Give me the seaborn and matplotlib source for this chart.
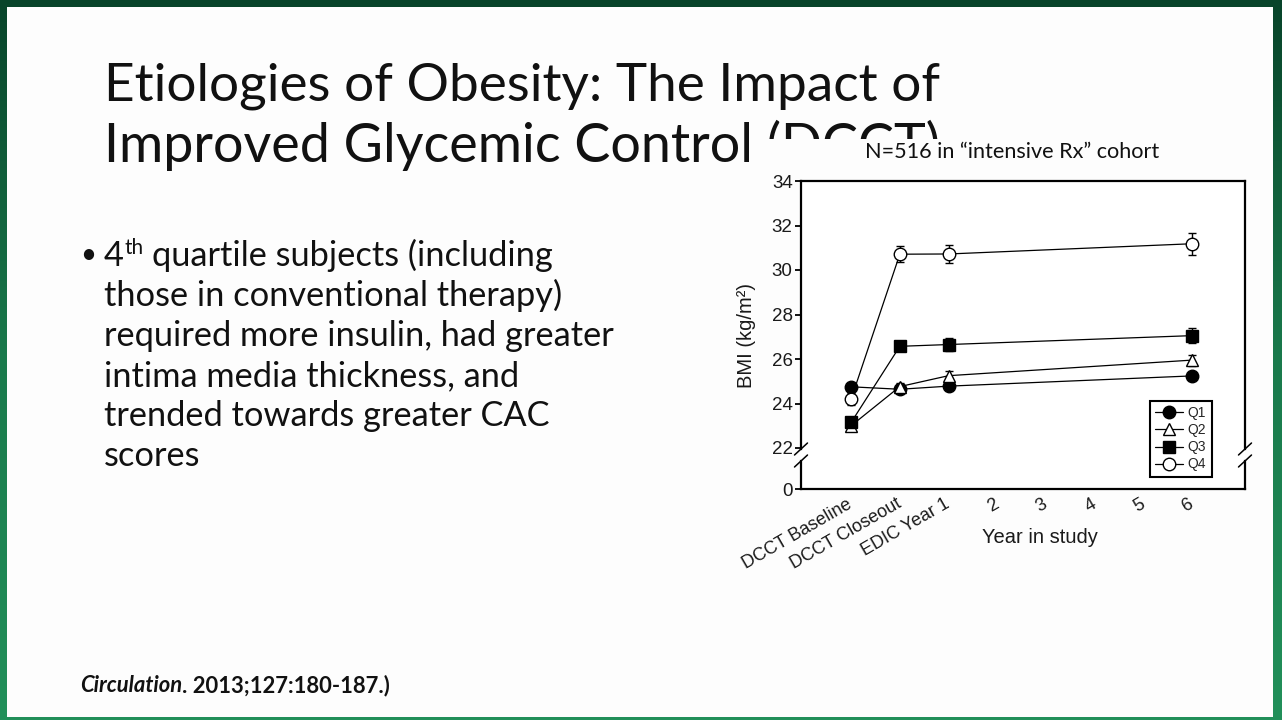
import matplotlib
matplotlib.use("Agg")
import matplotlib.pyplot as plt
import seaborn as sns
import numpy as np
import pandas as pd
from matplotlib.patches import Rectangle
from matplotlib.colors import LinearSegmentedColormap

# ---------------- data ----------------
tick_labels = ["DCCT Baseline", "DCCT Closeout", "EDIC Year 1", "2", "3", "4", "5", "6"]
visit_pos = [0, 1, 2, 7]          # index into tick_labels for measured visits
quartiles = ["Q1", "Q2", "Q3", "Q4"]
q1_bmi = [24.75, 24.64, 24.78, 25.24]
q1_err = [0.15, 0.12, 0.15, 0.18]
q2_bmi = [23.00, 24.76, 25.25, 25.95]
q2_err = [0.15, 0.15, 0.22, 0.25]
q3_bmi = [23.15, 26.57, 26.65, 27.05]
q3_err = [0.15, 0.20, 0.30, 0.35]
q4_bmi = [24.20, 30.71, 30.72, 31.18]
q4_err = [0.25, 0.35, 0.40, 0.50]
y_tick_values = [22, 24, 26, 28, 30, 32, 34]
y_zero_label = "0"

title_line1 = "Etiologies of Obesity: The Impact of"
title_line2 = "Improved Glycemic Control (DCCT)"
chart_title = "N=516 in \u201cintensive Rx\u201d cohort"
bullet_lines = ["those in conventional therapy)",
                "required more insulin, had greater",
                "intima media thickness, and",
                "trended towards greater CAC",
                "scores"]
citation_italic = "Circulation"
citation_rest = ". 2013;127:180-187.)"

# ---------------- figure ----------------
sns.set_style("ticks")
plt.rcParams["font.family"] = ["Liberation Sans", "DejaVu Sans"]
W, H = 1282, 720
fig = plt.figure(figsize=(W / 100, H / 100), dpi=100)

bg = fig.add_axes([0, 0, 1, 1])
bg.set_xlim(0, W)
bg.set_ylim(H, 0)
bg.axis("off")
grad = np.linspace(0, 1, 256).reshape(-1, 1)
cmap = LinearSegmentedColormap.from_list("g", ["#08442a", "#1a7a4c", "#22905a"])
bg.imshow(grad, extent=[0, W, H, 0], aspect="auto", cmap=cmap, zorder=0)
bg.add_patch(Rectangle((7, 7), 1266, 710, facecolor="#fdfdfd", edgecolor="none", zorder=1))

r = fig.canvas.get_renderer()
slide_font = ["Lato", "DejaVu Sans"]
ink = "#111111"


def fit_size(s, target, **kw):
    t = bg.text(0, 0, s, fontsize=20, family=slide_font, **kw)
    w = t.get_window_extent(renderer=r).width
    t.remove()
    return 20 * target / w


# title (second line partly hidden behind the chart picture)
ts = fit_size(title_line1, 836)
bg.text(104, 101, title_line1, fontsize=ts, family=slide_font, va="baseline", color=ink, zorder=2)
bg.text(104, 162, title_line2, fontsize=ts * 1.015, family=slide_font, va="baseline", color=ink, zorder=2)
bg.add_patch(Rectangle((759, 139), 503, 460, facecolor="#fdfdfd", edgecolor="none", zorder=3))

# chart caption
cs = fit_size(chart_title, 295)
bg.text(1012, 152, chart_title, fontsize=cs, family=slide_font, ha="center", va="center", color=ink, zorder=4)

# bullet text
bs = fit_size(bullet_lines[1], 513)
bg.text(80, 263, "\u2022", fontsize=bs * 0.8, family=slide_font, va="baseline", color=ink, zorder=4)
t4 = bg.text(104, 266, "4", fontsize=bs, family=slide_font, va="baseline", color=ink, zorder=4)
x_after = t4.get_window_extent(renderer=r).x1
tth = bg.text(x_after + 0.5, 254, "th", fontsize=bs * 0.6, family=slide_font, va="baseline", color=ink, zorder=4)
x_after = tth.get_window_extent(renderer=r).x1
bg.text(x_after + bs * 100 / 72 * 0.25, 266, "quartile subjects (including", fontsize=bs, family=slide_font,
        va="baseline", color=ink, zorder=4)
for i, line in enumerate(bullet_lines):
    bg.text(104, 306 + 40 * i, line, fontsize=bs, family=slide_font, va="baseline", color=ink, zorder=4)

# citation
ci = bg.text(80, 692, citation_italic, fontsize=15.8, family=slide_font, fontweight="bold", fontstyle="italic",
             va="baseline", color=ink, zorder=4)
x_after = ci.get_window_extent(renderer=r).x1
bg.text(x_after, 692, citation_rest, fontsize=15.8, family=slide_font, fontweight="bold",
        va="baseline", color=ink, zorder=4)

# ---------------- chart ----------------
ax = fig.add_axes([801 / W, 1 - 489 / H, 444 / W, 308 / H])
ax.set_zorder(5)
ax.set_facecolor("white")

y_floor = 22 - 41 / 22.25   # position where the broken axis shows "0"

series = [
    ("Q1", q1_bmi, q1_err, "o", "black", 9.0),
    ("Q2", q2_bmi, q2_err, "^", "white", 8.5),
    ("Q3", q3_bmi, q3_err, "s", "black", 8.5),
    ("Q4", q4_bmi, q4_err, "o", "white", 9.0),
]
for name, vals, errs, mk, fc, ms in series:
    df = pd.DataFrame({"visit": visit_pos, "bmi": vals})
    ax.errorbar(visit_pos, vals, yerr=errs, fmt="none", ecolor="black", elinewidth=1.0, capsize=3, capthick=1.0,
                zorder=2)
    sns.lineplot(data=df, x="visit", y="bmi", ax=ax, color="black", lw=0.9, marker=mk, markersize=ms,
                 markerfacecolor=fc, markeredgecolor="black", markeredgewidth=1.0, label=name, zorder=3,
                 errorbar=None)

ax.set_xlim(-1.03, 8.09)
ax.set_ylim(y_floor, 34)
ax.set_xticks(range(len(tick_labels)))
ax.set_xticklabels(tick_labels, rotation=30, ha="right", rotation_mode="anchor", va="center", fontsize=13,
                   color="#1a1a1a")
ax.tick_params(axis="x", length=0, pad=10)
ax.set_yticks([y_floor] + y_tick_values)
ax.set_yticklabels([y_zero_label] + [str(v) for v in y_tick_values], fontsize=13.5, color="#1a1a1a")
ax.tick_params(axis="y", length=4, width=1.3, pad=2, direction="out", color="black")
ax.set_xlabel("Year in study", fontsize=14.5, color="#1a1a1a")
ax.xaxis.set_label_coords(0.538, -0.128)
ax.set_ylabel("BMI (kg/m\u00b2)", fontsize=14.5, color="#1a1a1a")
ax.yaxis.set_label_coords(-0.102, 0.5)

for sp in ["top", "bottom"]:
    ax.spines[sp].set_linewidth(1.6)
    ax.spines[sp].set_color("black")
ax.spines["left"].set_visible(False)
ax.spines["right"].set_visible(False)

gap_hi, gap_lo = (489 - 449) / 308, (489 - 461) / 308
dx, dy = 6.5 / 444, 6.0 / 308
for xs in (0, 1):
    ax.plot([xs, xs], [1, gap_hi], transform=ax.transAxes, clip_on=False, color="black", lw=1.6,
            solid_capstyle="projecting")
    ax.plot([xs, xs], [gap_lo, 0], transform=ax.transAxes, clip_on=False, color="black", lw=1.6,
            solid_capstyle="projecting")
    for yc in (gap_hi, gap_lo):
        ax.plot([xs - dx, xs + dx], [yc - dy, yc + dy], transform=ax.transAxes, clip_on=False,
                color="black", lw=1.1)

handles, labels = ax.get_legend_handles_labels()
leg = ax.legend(handles, labels, loc="lower right", bbox_to_anchor=(411 / 444, 12 / 308), frameon=True,
                fancybox=False, edgecolor="black", framealpha=1, fontsize=10, handlelength=2.0,
                labelspacing=0.22, borderpad=0.4, handletextpad=0.35, borderaxespad=0)
leg.get_frame().set_linewidth(1.5)

fig.savefig("out.png", dpi=100)
